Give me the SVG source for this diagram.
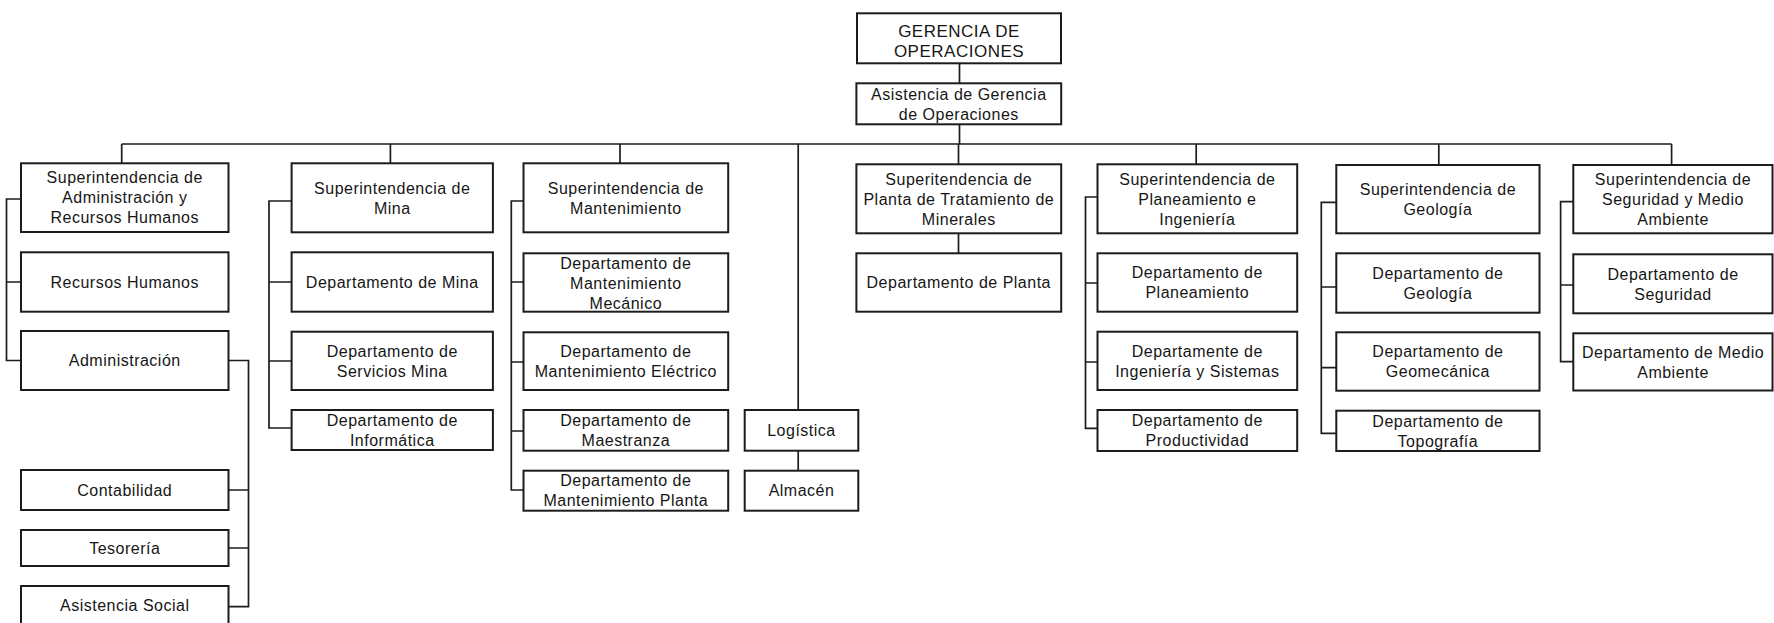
<svg xmlns="http://www.w3.org/2000/svg" width="1774" height="623" viewBox="0 0 1774 623">
<style>
.box{fill:#fff;stroke:#1c1c1c;stroke-width:2}
.ln{fill:none;stroke:#1c1c1c;stroke-width:1.7}
text{font-family:"Liberation Sans",Arial,sans-serif;font-size:16px;fill:#161616;text-anchor:middle;letter-spacing:0.5px}
.big{font-size:17px}
</style>
<rect width="1774" height="623" fill="#fff"/>
<g id="connectors">
<path class="ln" d="M959.5,63.3V83.3M959.5,124.3V144M121.7,144H1671.6"/>
<path class="ln" d="M121.7,144V163.3M390.4,144V163.3M620,144V163.3M798.2,144V410M958.5,144V164.3M1196.2,144V164.3M1438.8,144V165M1671.6,144V165"/>
<path class="ln" d="M21,199H6.5V360.5H21M6.5,282H21"/>
<path class="ln" d="M228.5,360.5H248.5V606.7H228.5M228.5,490H248.5M228.5,548H248.5"/>
<path class="ln" d="M291.6,201H269V428H291.6M269,282H291.6M269,361H291.6"/>
<path class="ln" d="M523.5,201H511.3V490H523.5M511.3,282H523.5M511.3,362H523.5M511.3,431H523.5"/>
<path class="ln" d="M798.2,450.7V470.7"/>
<path class="ln" d="M958.5,233.3V253.3"/>
<path class="ln" d="M1097.5,197H1085.5V428.3H1097.5M1085.5,283H1097.5M1085.5,362H1097.5"/>
<path class="ln" d="M1336.3,202.3H1321.3V433.3H1336.3M1321.3,287H1336.3M1321.3,367.7H1336.3"/>
<path class="ln" d="M1573.3,201.7H1560.6V361.7H1573.3M1560.6,285H1573.3"/>
</g>
<g id="gerencia"><rect class="box" x="857" y="13.3" width="204" height="50"/><text class="big" x="959" y="36.7">GERENCIA DE</text><text class="big" x="959" y="56.7">OPERACIONES</text></g>
<g id="asistencia-gerencia"><rect class="box" x="856.4" y="83.3" width="204.8" height="41"/><text x="958.8" y="100">Asistencia de Gerencia</text><text x="958.8" y="119.5">de Operaciones</text></g>

<g id="sup-admin"><rect class="box" x="21" y="163.3" width="207.5" height="68.7"/><text x="124.75" y="183.4">Superintendencia de</text><text x="124.75" y="203.4">Administración y</text><text x="124.75" y="223.4">Recursos Humanos</text></g>
<g id="recursos-humanos"><rect class="box" x="21" y="252.3" width="207.5" height="59.4"/><text x="124.75" y="287.75">Recursos Humanos</text></g>
<g id="administracion"><rect class="box" x="21" y="331" width="207.5" height="59"/><text x="124.75" y="366.25">Administración</text></g>
<g id="contabilidad"><rect class="box" x="21" y="470" width="207.5" height="40"/><text x="124.75" y="495.75">Contabilidad</text></g>
<g id="tesoreria"><rect class="box" x="21" y="530" width="207.5" height="36"/><text x="124.75" y="553.75">Tesorería</text></g>
<g id="asistencia-social"><rect class="box" x="21" y="586" width="207.5" height="50"/><text x="124.75" y="611">Asistencia Social</text></g>

<g id="sup-mina"><rect class="box" x="291.6" y="163.3" width="201.3" height="69"/><text x="392.25" y="193.55">Superintendencia de</text><text x="392.25" y="213.55">Mina</text></g>
<g id="dep-mina"><rect class="box" x="291.6" y="252.3" width="201.3" height="59.4"/><text x="392.25" y="287.75">Departamento de Mina</text></g>
<g id="dep-servicios-mina"><rect class="box" x="291.6" y="331.7" width="201.3" height="58.3"/><text x="392.25" y="356.6">Departamento de</text><text x="392.25" y="376.6">Servicios Mina</text></g>
<g id="dep-informatica"><rect class="box" x="291.6" y="410" width="201.3" height="40"/><text x="392.25" y="425.5">Departamento de</text><text x="392.25" y="445.5">Informática</text></g>

<g id="sup-mantenimiento"><rect class="box" x="523.5" y="163.3" width="204.7" height="69"/><text x="625.85" y="193.55">Superintendencia de</text><text x="625.85" y="213.55">Mantenimiento</text></g>
<g id="dep-mant-mecanico"><rect class="box" x="523.5" y="253.3" width="204.7" height="58.4"/><text x="625.85" y="268.8">Departamento de</text><text x="625.85" y="288.8">Mantenimiento</text><text x="625.85" y="308.8">Mecánico</text></g>
<g id="dep-mant-electrico"><rect class="box" x="523.5" y="332.3" width="204.7" height="57.7"/><text x="625.85" y="356.9">Departamento de</text><text x="625.85" y="376.9">Mantenimiento Eléctrico</text></g>
<g id="dep-maestranza"><rect class="box" x="523.5" y="410" width="204.7" height="40.7"/><text x="625.85" y="426.1">Departamento de</text><text x="625.85" y="446.1">Maestranza</text></g>
<g id="dep-mant-planta"><rect class="box" x="523.5" y="470.7" width="204.7" height="40"/><text x="625.85" y="486.45">Departamento de</text><text x="625.85" y="506.45">Mantenimiento Planta</text></g>

<g id="logistica"><rect class="box" x="744.7" y="410" width="113.6" height="40.7"/><text x="801.5" y="436.1">Logística</text></g>
<g id="almacen"><rect class="box" x="744.7" y="470.7" width="113.6" height="40"/><text x="801.5" y="496.45">Almacén</text></g>

<g id="sup-planta"><rect class="box" x="856.4" y="164.3" width="204.8" height="69"/><text x="958.8" y="184.55">Superitendencia de</text><text x="958.8" y="204.55">Planta de Tratamiento de</text><text x="958.8" y="224.55">Minerales</text></g>
<g id="dep-planta"><rect class="box" x="856.4" y="253.3" width="204.8" height="58.4"/><text x="958.8" y="288.25">Departamento de Planta</text></g>

<g id="sup-planeamiento"><rect class="box" x="1097.5" y="164.3" width="199.7" height="69"/><text x="1197.35" y="184.55">Superintendencia de</text><text x="1197.35" y="204.55">Planeamiento e</text><text x="1197.35" y="224.55">Ingeniería</text></g>
<g id="dep-planeamiento"><rect class="box" x="1097.5" y="253.3" width="199.7" height="58.4"/><text x="1197.35" y="278.25">Departamento de</text><text x="1197.35" y="298.25">Planeamiento</text></g>
<g id="dep-ingenieria-sistemas"><rect class="box" x="1097.5" y="331.7" width="199.7" height="58.3"/><text x="1197.35" y="356.6">Departamente de</text><text x="1197.35" y="376.6">Ingeniería y Sistemas</text></g>
<g id="dep-productividad"><rect class="box" x="1097.5" y="410" width="199.7" height="41"/><text x="1197.35" y="426.25">Departamento de</text><text x="1197.35" y="446.25">Productividad</text></g>

<g id="sup-geologia"><rect class="box" x="1336.3" y="165" width="203.2" height="68.3"/><text x="1437.9" y="194.9">Superintendencia de</text><text x="1437.9" y="214.9">Geología</text></g>
<g id="dep-geologia"><rect class="box" x="1336.3" y="253.3" width="203.2" height="59.4"/><text x="1437.9" y="278.75">Departamento de</text><text x="1437.9" y="298.75">Geología</text></g>
<g id="dep-geomecanica"><rect class="box" x="1336.3" y="332.3" width="203.2" height="58.4"/><text x="1437.9" y="357.25">Departamento de</text><text x="1437.9" y="377.25">Geomecánica</text></g>
<g id="dep-topografia"><rect class="box" x="1336.3" y="410.7" width="203.2" height="40.3"/><text x="1437.9" y="426.6">Departamento de</text><text x="1437.9" y="446.6">Topografía</text></g>

<g id="sup-seguridad"><rect class="box" x="1573.3" y="165" width="199.2" height="68.3"/><text x="1673" y="184.9">Superintendencia de</text><text x="1673" y="204.9">Seguridad y Medio</text><text x="1673" y="224.9">Ambiente</text></g>
<g id="dep-seguridad"><rect class="box" x="1573.3" y="254.3" width="199.2" height="59"/><text x="1673" y="279.55">Departamento de</text><text x="1673" y="299.55">Seguridad</text></g>
<g id="dep-medio-ambiente"><rect class="box" x="1573.3" y="333.3" width="199.2" height="57.2"/><text x="1673" y="357.65">Departamento de Medio</text><text x="1673" y="377.65">Ambiente</text></g>
</svg>
